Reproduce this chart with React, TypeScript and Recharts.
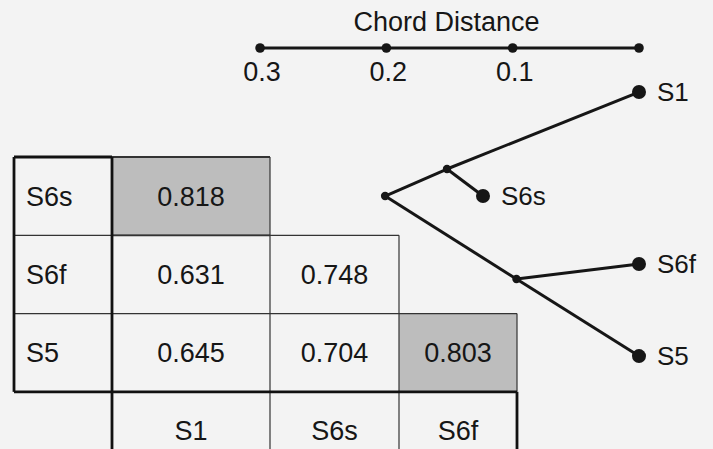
import React from 'react';
import { ComposedChart, XAxis, YAxis, Scatter, ReferenceLine, ReferenceArea } from 'recharts';

// ---- Dendrogram (chord distance) ----
const nodeNames = ['root', 'A', 'S1', 'S6s', 'B', 'S6f', 'S5'];
const nodeDist = [0.201, 0.152, 0, 0.1235, 0.097, 0, 0];
const nodeRow = [0.498, 0.153, -0.83, 0.498, 1.559, 1.367, 2.543];
const nodeIsLeaf = [false, false, true, true, false, true, true];
const edges: [string, string][] = [
  ['root', 'A'], ['A', 'S1'], ['A', 'S6s'],
  ['root', 'B'], ['B', 'S6f'], ['B', 'S5'],
];

// ---- Scale bar ----
const scaleTicks = [0.3, 0.2, 0.1, 0];
const scaleTickLabels = ['0.3', '0.2', '0.1', ''];
const scaleTitle = 'Chord Distance';
const scaleRow = -1.393;

// ---- Similarity matrix ----
const rowLabels = ['S6s', 'S6f', 'S5'];
const colLabels = ['S1', 'S6s', 'S6f'];
const matrix: (number | null)[][] = [
  [0.818, null, null],
  [0.631, 0.748, null],
  [0.645, 0.704, 0.803],
];
const highlighted = ['0-0', '2-2'];

// layout (table column edges, in table axis units)
const colEdges = [14, 112, 270, 399, 517];

const FONT = '"Liberation Sans", Arial, Helvetica, sans-serif';
const INK = '#161616';
const GRAY = '#bdbdbd';
const FS = 27;

const nodes = nodeNames.map((name, i) => ({ name, d: nodeDist[i], r: nodeRow[i], leaf: nodeIsLeaf[i] }));
const nodeByName: Record<string, { d: number; r: number }> = {};
nodes.forEach((n) => (nodeByName[n.name] = n));
const scaleData = scaleTicks.map((d, i) => ({ d, r: scaleRow, label: scaleTickLabels[i] }));
const titleData = [{ d: (scaleTicks[0] + scaleTicks[scaleTicks.length - 1]) / 2, r: scaleRow, label: scaleTitle }];

// table text points (cell centres in table units)
type TP = { t: number; r: number; label: string; align: 'middle' | 'start' };
const tableText: TP[] = [];
matrix.forEach((row, i) =>
  row.forEach((v, j) => {
    if (v != null) tableText.push({ t: (colEdges[j + 1] + colEdges[j + 2]) / 2, r: i + 0.5, label: v.toFixed(3), align: 'middle' });
  })
);
rowLabels.forEach((lab, i) => tableText.push({ t: colEdges[0], r: i + 0.5, label: lab, align: 'start' }));
colLabels.forEach((lab, j) => tableText.push({ t: (colEdges[j + 1] + colEdges[j + 2]) / 2, r: 3.5, label: lab, align: 'middle' }));

const NodeShape = (props: any) => {
  const { cx, cy, payload } = props;
  if (cx == null || cy == null) return null;
  return (
    <g>
      <circle cx={cx} cy={cy} r={payload.leaf ? 7 : 4.2} fill={INK} />
      {payload.leaf ? (
        <text x={cx + 18} y={cy + 9} fontSize={26} fontFamily={FONT} fill={INK}>{payload.name}</text>
      ) : null}
    </g>
  );
};

const ScaleShape = (props: any) => {
  const { cx, cy, payload } = props;
  if (cx == null || cy == null) return null;
  return (
    <g>
      <circle cx={cx} cy={cy} r={4.8} fill={INK} />
      {payload.label ? (
        <text x={cx + 2} y={cy + 33} textAnchor="middle" fontSize={FS} fontFamily={FONT} fill={INK}>{payload.label}</text>
      ) : null}
    </g>
  );
};

const TitleShape = (props: any) => {
  const { cx, cy, payload } = props;
  if (cx == null || cy == null) return null;
  return (
    <text x={cx - 3} y={cy - 17} textAnchor="middle" fontSize={FS} fontFamily={FONT} fill={INK}>{payload.label}</text>
  );
};

const TableTextShape = (props: any) => {
  const { cx, cy, payload } = props;
  if (cx == null || cy == null) return null;
  return (
    <text
      x={payload.align === 'start' ? cx + 12 : cx}
      y={cy + 9.5}
      textAnchor={payload.align}
      fontSize={FS}
      fontFamily={FONT}
      fill={INK}
    >
      {payload.label}
    </text>
  );
};

type Seg = { x1: number; x2: number; y1: number; y2: number; w: number };
const thin = 1.2;
const mid = 1.8;
const thick = 2.8;
const tableLines: Seg[] = [
  { x1: colEdges[0], x2: colEdges[3], y1: 1, y2: 1, w: thin },
  { x1: colEdges[0], x2: colEdges[4], y1: 2, y2: 2, w: thin },
  { x1: colEdges[2], x2: colEdges[2], y1: 0, y2: 4, w: thin },
  { x1: colEdges[3], x2: colEdges[3], y1: 1, y2: 4, w: thin },
  { x1: colEdges[4], x2: colEdges[4], y1: 2, y2: 3, w: thin },
  { x1: colEdges[1], x2: colEdges[2], y1: 0, y2: 0, w: mid },
  { x1: colEdges[1], x2: colEdges[2], y1: 1, y2: 1, w: mid },
  { x1: colEdges[0], x2: colEdges[1], y1: 0, y2: 0, w: thick },
  { x1: colEdges[0], x2: colEdges[0], y1: 0, y2: 3, w: thick },
  { x1: colEdges[1], x2: colEdges[1], y1: 0, y2: 4, w: thick },
  { x1: colEdges[0], x2: colEdges[4], y1: 3, y2: 3, w: thick },
  { x1: colEdges[4], x2: colEdges[4], y1: 3, y2: 4, w: thick },
  { x1: colEdges[1], x2: colEdges[4], y1: 4, y2: 4, w: thick },
];

export default function App() {
  const fills: React.ReactNode[] = [];
  matrix.forEach((row, i) =>
    row.forEach((v, j) => {
      if (v == null || !highlighted.includes(`${i}-${j}`)) return;
      fills.push(
        <ReferenceArea
          key={`c${i}-${j}`}
          xAxisId="t"
          yAxisId="r"
          x1={colEdges[j + 1]}
          x2={colEdges[j + 2]}
          y1={i}
          y2={i + 1}
          ifOverflow="visible"
          fill={GRAY}
          fillOpacity={1}
          stroke="none"
        />
      );
    })
  );

  return (
    <div style={{ position: 'absolute', left: 0, top: 0, width: 713, height: 449, background: '#f3f3f3' }}>
      <ComposedChart width={713} height={449} margin={{ top: 0, right: 0, bottom: 0, left: 0 }}>
        <XAxis xAxisId="d" dataKey="d" type="number" domain={[-0.0586, 0.5059]} reversed allowDataOverflow hide />
        <XAxis xAxisId="t" dataKey="t" type="number" domain={[0, 713]} allowDataOverflow hide />
        <YAxis yAxisId="r" dataKey="r" type="number" domain={[-2.006, 3.73]} reversed allowDataOverflow hide />
        {fills}
        {tableLines.map((s, k) => (
          <ReferenceLine
            key={`tl${k}`}
            xAxisId="t"
            yAxisId="r"
            ifOverflow="visible"
            segment={[{ x: s.x1, y: s.y1 }, { x: s.x2, y: s.y2 }]}
            stroke={s.w > 2 ? '#111' : '#333'}
            strokeWidth={s.w}
          />
        ))}
        <ReferenceLine
          xAxisId="d"
          yAxisId="r"
          ifOverflow="visible"
          segment={[{ x: scaleTicks[0], y: scaleRow }, { x: scaleTicks[scaleTicks.length - 1], y: scaleRow }]}
          stroke={INK}
          strokeWidth={3.2}
        />
        {edges.map(([a, b], k) => (
          <ReferenceLine
            key={`e${k}`}
            xAxisId="d"
            yAxisId="r"
            ifOverflow="visible"
            segment={[{ x: nodeByName[a].d, y: nodeByName[a].r }, { x: nodeByName[b].d, y: nodeByName[b].r }]}
            stroke={INK}
            strokeWidth={3}
          />
        ))}
        <Scatter xAxisId="t" yAxisId="r" dataKey="r" data={tableText} shape={TableTextShape} isAnimationActive={false} />
        <Scatter xAxisId="d" yAxisId="r" data={scaleData} shape={ScaleShape} isAnimationActive={false} />
        <Scatter xAxisId="d" yAxisId="r" data={titleData} shape={TitleShape} isAnimationActive={false} />
        <Scatter xAxisId="d" yAxisId="r" data={nodes} shape={NodeShape} isAnimationActive={false} />
      </ComposedChart>
    </div>
  );
}
